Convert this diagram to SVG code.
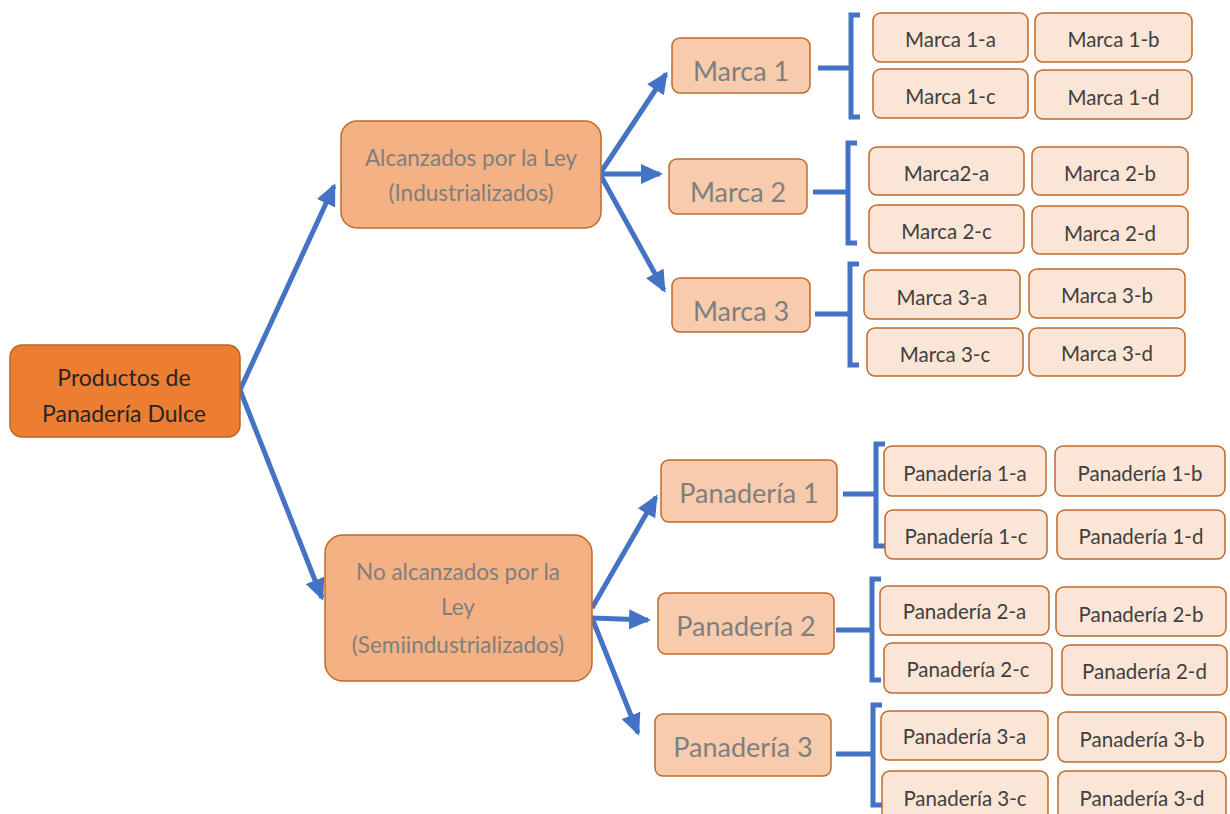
<svg xmlns="http://www.w3.org/2000/svg" width="1230" height="814" viewBox="0 0 1230 814">
<defs>
<marker id="ah" markerWidth="4.4" markerHeight="4" refX="3.8" refY="2" orient="auto" markerUnits="strokeWidth">
<path d="M0,0 L4.4,2 L0,4 Z" fill="#4472C4"/>
</marker>
<style>
.root rect{fill:#ED7D31;stroke:#B4652A;stroke-width:1.5}
.root text{fill:#262626;font-size:23px}
.mid rect{fill:#F4B183;stroke:#C0692B;stroke-width:1.5}
.mid text{fill:#7F7F7F;font-size:22.5px}
.sub rect{fill:#F8CBAD;stroke:#C0692B;stroke-width:1.5}
.sub text{fill:#7F7F7F;font-size:27px}
.leaf rect{fill:#FBE5D6;stroke:#C0692B;stroke-width:1.5}
.leaf text{fill:#404040;font-size:20.5px}
text{font-family:Lato,"Liberation Sans",sans-serif;text-anchor:middle;dominant-baseline:central}
.arr{stroke:#4472C4;stroke-width:5;fill:none;marker-end:url(#ah)}
.br{stroke:#4472C4;stroke-width:5;fill:none}
</style>
</defs>
<rect width="1230" height="814" fill="#FFFFFF"/>
<g id="connectors">
<path class="arr" d="M240,390 L334,186"/>
<path class="arr" d="M240,390 L322,598"/>
<path class="arr" d="M601,172 L666,74"/>
<path class="arr" d="M601,174 L660,174"/>
<path class="arr" d="M601,176 L664,290"/>
<path class="arr" d="M592,608 L656,497"/>
<path class="arr" d="M592,618 L648,620"/>
<path class="arr" d="M592,618 L638,733"/>
<path class="br" d="M818,68 L851,68 M860,15 L851,15 L851,117 L860,117"/>
<path class="br" d="M813,192 L848,192 M857,143 L848,143 L848,243 L857,243"/>
<path class="br" d="M815,314 L850,314 M859,264 L850,264 L850,365 L859,365"/>
<path class="br" d="M843,494 L876,494 M885,444 L876,444 L876,546 L885,546"/>
<path class="br" d="M836,630 L872,630 M881,579 L872,579 L872,680 L881,680"/>
<path class="br" d="M836,754 L873,754 M882,705 L873,705 L873,805 L882,805"/>
</g>
<g id="root" class="root"><rect x="10" y="345" width="230" height="92" rx="12"/><text x="124" y="377">Productos  de</text><text x="124" y="413">Panadería Dulce</text></g>
<g id="alcanzados" class="mid"><rect x="341" y="121" width="260" height="107" rx="16"/><text x="471" y="157">Alcanzados por la Ley</text><text x="471" y="192">(Industrializados)</text></g>
<g id="noalcanzados" class="mid"><rect x="325" y="535" width="267" height="146" rx="18"/><text x="458" y="571">No alcanzados por la</text><text x="458" y="606">Ley</text><text x="458" y="644">(Semiindustrializados)</text></g>
<g id="marca1" class="sub"><rect x="672" y="38" width="138" height="55" rx="8"/><text x="741" y="70">Marca 1</text></g>
<g id="marca2" class="sub"><rect x="669" y="159" width="138" height="55" rx="8"/><text x="738" y="191">Marca 2</text></g>
<g id="marca3" class="sub"><rect x="672" y="278" width="138" height="54" rx="8"/><text x="741" y="310">Marca 3</text></g>
<g id="panaderia1" class="sub"><rect x="661" y="460" width="176" height="62" rx="8"/><text x="749" y="492">Panadería 1</text></g>
<g id="panaderia2" class="sub"><rect x="658" y="593" width="176" height="61" rx="8"/><text x="746" y="625">Panadería 2</text></g>
<g id="panaderia3" class="sub"><rect x="655" y="714" width="176" height="62" rx="8"/><text x="743" y="746">Panadería 3</text></g>
<g id="m1a" class="leaf"><rect x="873" y="13" width="155" height="49" rx="8"/><text x="950.5" y="39">Marca 1-a</text></g>
<g id="m1b" class="leaf"><rect x="1035" y="13" width="157" height="49" rx="8"/><text x="1113.5" y="39">Marca 1-b</text></g>
<g id="m1c" class="leaf"><rect x="873" y="69" width="155" height="49" rx="8"/><text x="950.5" y="96">Marca 1-c</text></g>
<g id="m1d" class="leaf"><rect x="1035" y="70" width="157" height="49" rx="8"/><text x="1113.5" y="97">Marca 1-d</text></g>
<g id="m2a" class="leaf"><rect x="869" y="147" width="155" height="48" rx="8"/><text x="946.5" y="173">Marca2-a</text></g>
<g id="m2b" class="leaf"><rect x="1032" y="147" width="156" height="48" rx="8"/><text x="1110" y="173">Marca 2-b</text></g>
<g id="m2c" class="leaf"><rect x="869" y="205" width="155" height="48" rx="8"/><text x="946.5" y="231">Marca 2-c</text></g>
<g id="m2d" class="leaf"><rect x="1032" y="206" width="156" height="48" rx="8"/><text x="1110" y="233">Marca 2-d</text></g>
<g id="m3a" class="leaf"><rect x="864" y="270" width="156" height="49" rx="8"/><text x="942" y="297">Marca 3-a</text></g>
<g id="m3b" class="leaf"><rect x="1029" y="269" width="156" height="49" rx="8"/><text x="1107" y="295">Marca 3-b</text></g>
<g id="m3c" class="leaf"><rect x="867" y="328" width="156" height="48" rx="8"/><text x="945" y="354">Marca 3-c</text></g>
<g id="m3d" class="leaf"><rect x="1029" y="328" width="156" height="48" rx="8"/><text x="1107" y="353">Marca 3-d</text></g>
<g id="p1a" class="leaf"><rect x="884" y="446" width="162" height="50" rx="8"/><text x="965" y="473">Panadería 1-a</text></g>
<g id="p1b" class="leaf"><rect x="1055" y="446" width="170" height="50" rx="8"/><text x="1140" y="473">Panadería 1-b</text></g>
<g id="p1c" class="leaf"><rect x="885" y="510" width="162" height="49" rx="8"/><text x="966" y="536">Panadería 1-c</text></g>
<g id="p1d" class="leaf"><rect x="1057" y="510" width="168" height="49" rx="8"/><text x="1141" y="536">Panadería 1-d</text></g>
<g id="p2a" class="leaf"><rect x="880" y="586" width="169" height="49" rx="8"/><text x="964.5" y="611">Panadería 2-a</text></g>
<g id="p2b" class="leaf"><rect x="1056" y="587" width="170" height="49" rx="8"/><text x="1141" y="614">Panadería 2-b</text></g>
<g id="p2c" class="leaf"><rect x="884" y="643" width="168" height="50" rx="8"/><text x="968" y="669">Panadería 2-c</text></g>
<g id="p2d" class="leaf"><rect x="1062" y="645" width="165" height="50" rx="8"/><text x="1144.5" y="671">Panadería 2-d</text></g>
<g id="p3a" class="leaf"><rect x="881" y="711" width="167" height="49" rx="8"/><text x="964.5" y="736">Panadería 3-a</text></g>
<g id="p3b" class="leaf"><rect x="1058" y="712" width="168" height="50" rx="8"/><text x="1142" y="739">Panadería 3-b</text></g>
<g id="p3c" class="leaf"><rect x="882" y="771" width="166" height="50" rx="8"/><text x="965" y="798">Panadería 3-c</text></g>
<g id="p3d" class="leaf"><rect x="1058" y="771" width="168" height="50" rx="8"/><text x="1142" y="798">Panadería 3-d</text></g>
</svg>
